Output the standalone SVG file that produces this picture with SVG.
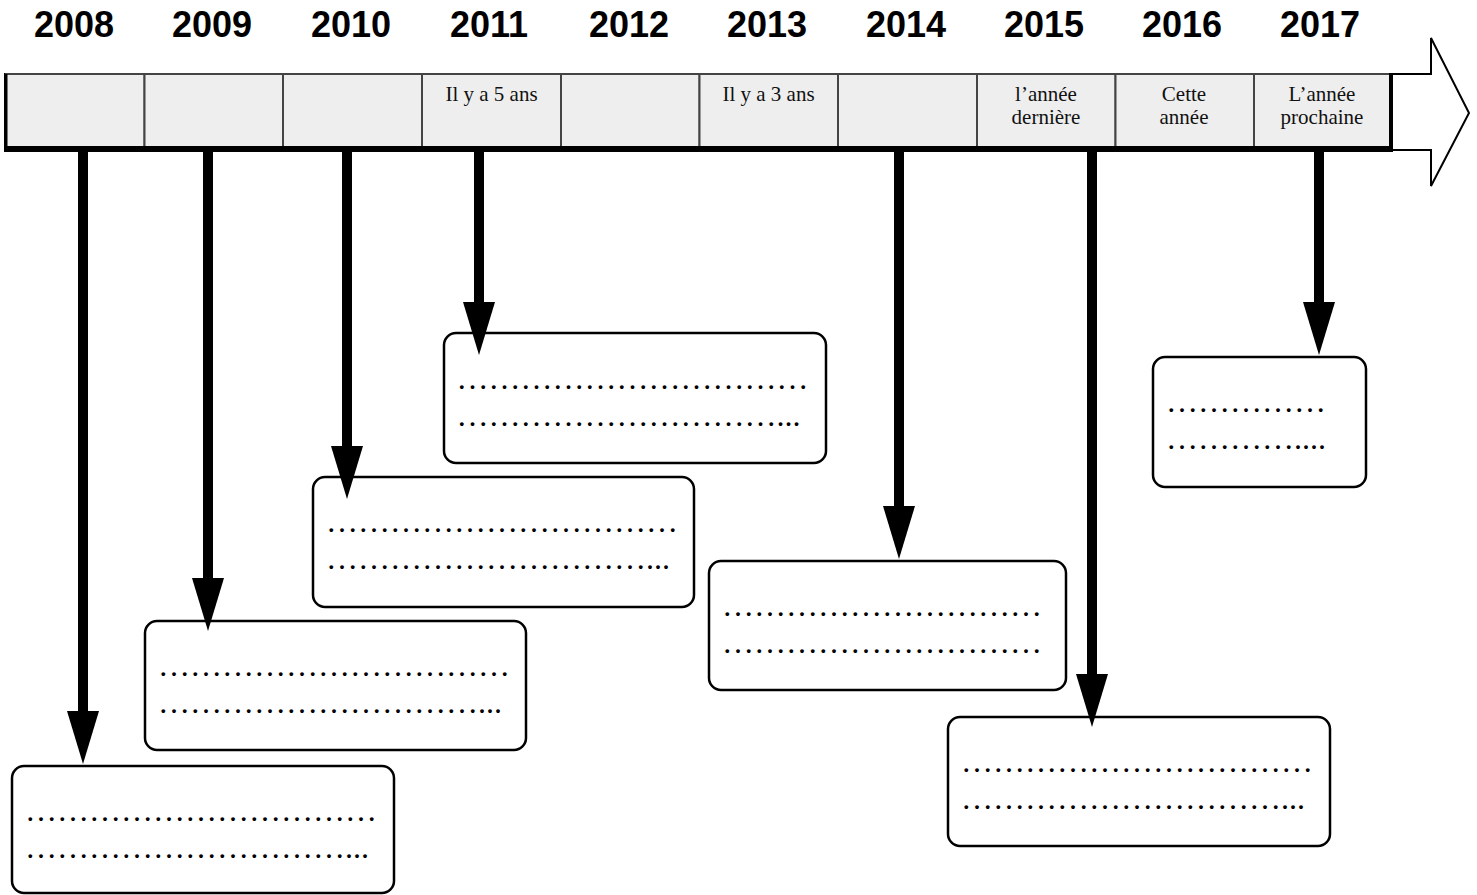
<svg xmlns="http://www.w3.org/2000/svg" width="1477" height="895" viewBox="0 0 1477 895">
<style>
.yr{font-family:"Liberation Sans",Arial,sans-serif;font-weight:bold;font-size:36px;fill:#000;text-anchor:middle}
.cl{font-family:"Liberation Serif","Times New Roman",serif;font-size:21px;fill:#111;text-anchor:middle}
.cell{fill:#eeeeee;stroke:#444;stroke-width:2}
.box{fill:#fff;stroke:#000;stroke-width:2.5}
.dt{font-family:"Liberation Serif","Times New Roman",serif;font-size:32px;fill:#000}
.sh{stroke:#000;stroke-width:10;fill:none;marker-end:url(#head)}
</style>
<defs>
<marker id="head" markerUnits="userSpaceOnUse" markerWidth="54" markerHeight="34" viewBox="0 -17 54 34" refX="0" refY="0" orient="auto">
<path d="M0,-16 L53,0 L0,16 Z" fill="#000"/>
</marker>
</defs>
<g id="years">
<text class="yr" x="74" y="37">2008</text>
<text class="yr" x="212" y="37">2009</text>
<text class="yr" x="351" y="37">2010</text>
<text class="yr" x="489" y="37">2011</text>
<text class="yr" x="629" y="37">2012</text>
<text class="yr" x="767" y="37">2013</text>
<text class="yr" x="906" y="37">2014</text>
<text class="yr" x="1044" y="37">2015</text>
<text class="yr" x="1182" y="37">2016</text>
<text class="yr" x="1320" y="37">2017</text>
</g>
<g id="timeline">
<polygon points="5,74 1431,74 1431,38 1469,113 1431,186 1431,150 5,150" fill="#fff" stroke="#000" stroke-width="2"/>
<rect class="cell" x="6" y="74" width="138.5" height="73"/>
<rect class="cell" x="144.5" y="74" width="138.5" height="73"/>
<rect class="cell" x="283" y="74" width="139" height="73"/>
<rect class="cell" x="422" y="74" width="139" height="73"/>
<rect class="cell" x="561" y="74" width="138.5" height="73"/>
<rect class="cell" x="699.5" y="74" width="138.5" height="73"/>
<rect class="cell" x="838" y="74" width="139" height="73"/>
<rect class="cell" x="977" y="74" width="138.5" height="73"/>
<rect class="cell" x="1115.5" y="74" width="138.5" height="73"/>
<rect class="cell" x="1254" y="74" width="137" height="73"/>
<line x1="4" y1="149" x2="1393" y2="149" stroke="#000" stroke-width="6"/>
<line x1="6" y1="74" x2="6" y2="150" stroke="#000" stroke-width="3"/>
<line x1="1391" y1="73" x2="1391" y2="150" stroke="#000" stroke-width="4"/>
<text class="cl" x="491.5" y="101">Il y a 5 ans</text>
<text class="cl" x="768.5" y="101">Il y a 3 ans</text>
<text class="cl" x="1046" y="101">l’année</text>
<text class="cl" x="1046" y="124">dernière</text>
<text class="cl" x="1184" y="101">Cette</text>
<text class="cl" x="1184" y="124">année</text>
<text class="cl" x="1322" y="101">L’année</text>
<text class="cl" x="1322" y="124">prochaine</text>
</g>
<g id="box2008">
<rect class="box" x="12" y="766" width="382" height="127" rx="12"/>
<text class="dt" x="25" y="821">&#8230;&#8230;&#8230;&#8230;&#8230;&#8230;&#8230;&#8230;&#8230;&#8230;&#8230;</text>
<text class="dt" x="25" y="858">&#8230;&#8230;&#8230;&#8230;&#8230;&#8230;&#8230;&#8230;&#8230;&#8230;...</text>
</g>
<g id="box2009">
<rect class="box" x="145" y="621" width="381" height="129" rx="12"/>
<text class="dt" x="158" y="676">&#8230;&#8230;&#8230;&#8230;&#8230;&#8230;&#8230;&#8230;&#8230;&#8230;&#8230;</text>
<text class="dt" x="158" y="713">&#8230;&#8230;&#8230;&#8230;&#8230;&#8230;&#8230;&#8230;&#8230;&#8230;...</text>
</g>
<g id="box2010">
<rect class="box" x="313" y="477" width="381" height="130" rx="12"/>
<text class="dt" x="326" y="532">&#8230;&#8230;&#8230;&#8230;&#8230;&#8230;&#8230;&#8230;&#8230;&#8230;&#8230;</text>
<text class="dt" x="326" y="569">&#8230;&#8230;&#8230;&#8230;&#8230;&#8230;&#8230;&#8230;&#8230;&#8230;...</text>
</g>
<g id="box2011">
<rect class="box" x="444" y="333" width="382" height="130" rx="12"/>
<text class="dt" x="456.5" y="389">&#8230;&#8230;&#8230;&#8230;&#8230;&#8230;&#8230;&#8230;&#8230;&#8230;&#8230;</text>
<text class="dt" x="456.5" y="426">&#8230;&#8230;&#8230;&#8230;&#8230;&#8230;&#8230;&#8230;&#8230;&#8230;...</text>
</g>
<g id="box2014">
<rect class="box" x="709" y="561" width="357" height="129" rx="12"/>
<text class="dt" x="722" y="616">&#8230;&#8230;&#8230;&#8230;&#8230;&#8230;&#8230;&#8230;&#8230;&#8230;</text>
<text class="dt" x="722" y="653">&#8230;&#8230;&#8230;&#8230;&#8230;&#8230;&#8230;&#8230;&#8230;&#8230;</text>
</g>
<g id="box2015">
<rect class="box" x="948" y="717" width="382" height="129" rx="12"/>
<text class="dt" x="961" y="772">&#8230;&#8230;&#8230;&#8230;&#8230;&#8230;&#8230;&#8230;&#8230;&#8230;&#8230;</text>
<text class="dt" x="961" y="809">&#8230;&#8230;&#8230;&#8230;&#8230;&#8230;&#8230;&#8230;&#8230;&#8230;...</text>
</g>
<g id="box2017">
<rect class="box" x="1153" y="357" width="213" height="130" rx="12"/>
<text class="dt" x="1166" y="412">&#8230;&#8230;&#8230;&#8230;&#8230;</text>
<text class="dt" x="1166" y="449">&#8230;&#8230;&#8230;&#8230;....</text>
</g>
<g id="connectors">
<line class="sh" x1="83" y1="152" x2="83" y2="711"/>
<line class="sh" x1="208" y1="152" x2="208" y2="578"/>
<line class="sh" x1="347" y1="152" x2="347" y2="446"/>
<line class="sh" x1="479" y1="152" x2="479" y2="302"/>
<line class="sh" x1="899" y1="152" x2="899" y2="506"/>
<line class="sh" x1="1092" y1="152" x2="1092" y2="674"/>
<line class="sh" x1="1319" y1="152" x2="1319" y2="302"/>
</g>
</svg>
